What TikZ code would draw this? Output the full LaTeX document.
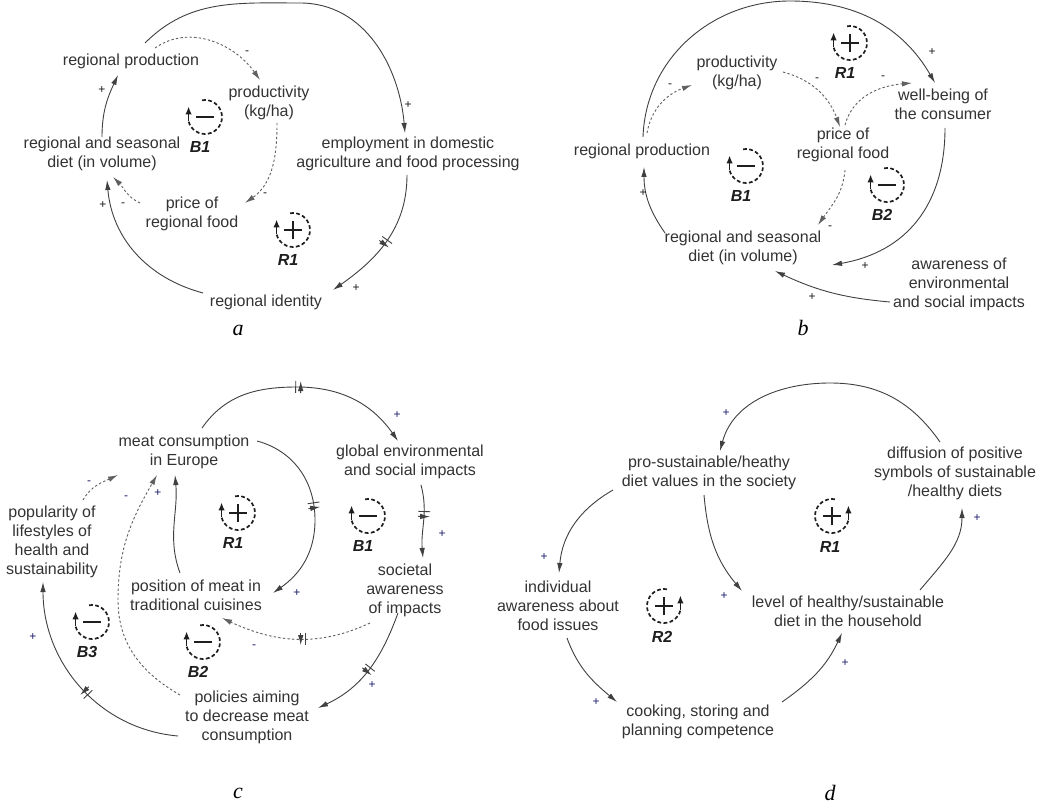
\documentclass[tikz,border=0pt]{standalone}
\usepackage{fontspec}
\setmainfont{Liberation Sans}
\newfontfamily\panelfont{Liberation Serif}
\usetikzlibrary{arrows.meta,decorations.markings}
\definecolor{txtc}{HTML}{333333}
\definecolor{lnc}{HTML}{404040}
\definecolor{dlc}{HTML}{606060}
\definecolor{polk}{HTML}{1A1A1A}
\definecolor{poln}{HTML}{1C1C6E}
\definecolor{loopc}{HTML}{1E1E1E}
\tikzset{
  txt/.style={align=center, inner sep=2pt, text=txtc, font=\fontsize{16}{19}\selectfont},
  pol/.style={inner sep=0pt, text=polk, font=\fontsize{12}{13}\selectfont},
  polb/.style={pol, text=poln},
  panel/.style={inner sep=0pt, text=black, font=\panelfont\itshape\fontsize{22}{24}\selectfont},
  conn/.style={draw=lnc, line width=0.9pt, -{Latex[length=10pt,width=5.5pt]}},
  dconn/.style={conn, draw=dlc, dash pattern=on 2.4pt off 2.2pt},
  hashat/.style={postaction={decorate,decoration={markings,
      mark=at position #1 with {\draw[solid,draw=lnc,line width=0.9pt] (-2.5,-6)--(-2.5,6) (2.5,-6)--(2.5,6);}}}},
  loopdash/.style={draw=loopc, line width=1.7pt, dash pattern=on 3.8pt off 2.4pt},
  looparr/.style={draw=loopc, line width=1.7pt, -{Latex[length=8pt,width=6.5pt]}},
  loopsgn/.style={draw=loopc, line width=2.3pt},
  looplab/.style={inner sep=0pt, text=loopc, font=\bfseries\itshape\fontsize{16}{18}\selectfont}
}
% loop symbol with the arrow on the left side
\newcommand{\cldloopL}[5]{%
  \begin{scope}[shift={(#2,#3)}]
    \draw[loopdash] (100:17) arc[start angle=100,end angle=-165,radius=17];
    \draw[looparr] (-165:17) -- ++(0,15);
    \draw[loopsgn] (-9,0) -- (9,0);
    \ifx p#4\draw[loopsgn] (0,-9) -- (0,9);\fi
    \node[looplab] (#1) at (-5,-30) {#5};
  \end{scope}}
% loop symbol with the arrow on the right side
\newcommand{\cldloopR}[5]{%
  \begin{scope}[shift={(#2,#3)}]
    \draw[loopdash] (80:17) arc[start angle=80,end angle=345,radius=17];
    \draw[looparr] (345:17) -- ++(0,15);
    \draw[loopsgn] (-9,0) -- (9,0);
    \ifx p#4\draw[loopsgn] (0,-9) -- (0,9);\fi
    \node[looplab] (#1) at (-2,-31) {#5};
  \end{scope}}
\begin{document}
\begin{tikzpicture}[x=1pt,y=1pt]
\fill[white] (0,0) rectangle (1049,-805);
\useasboundingbox (0,0) rectangle (1049,-805);

% ================= panel a =================
\node[txt] (aRP) at (131,-61) {regional production};
\node[txt] (aPR) at (269,-103) {productivity\\(kg/ha)};
\node[txt] (aRD) at (102,-154) {regional and seasonal\\diet (in volume)};
\node[txt] (aEM) at (408,-154) {employment in domestic\\agriculture and food processing};
\node[txt] (aPF) at (192,-214) {price of\\regional food};
\node[txt] (aRI) at (266,-302) {regional identity};
\node[panel] (aL) at (238,-330) {a};
\cldloopL{aB1}{205}{-117}{m}{B1}
\cldloopL{aR1}{293}{-230}{p}{R1}

\coordinate (a1s) at (145,-43); \coordinate (a1m) at (300,-3); \coordinate (a1e) at (405,-133);
\draw[conn] (a1s) to[out=45,in=180] (a1m) to[out=0,in=95] (a1e);
\coordinate (a2s) at (407,-175); \coordinate (a2e) at (333,-290);
\draw[conn,hashat=0.5] (a2s) to[out=-90,in=35] (a2e);
\coordinate (a3s) at (203,-293); \coordinate (a3e) at (107,-180);
\draw[conn] (a3s) to[out=165,in=-85] (a3e);
\coordinate (a4s) at (102,-137); \coordinate (a4e) at (118,-75);
\draw[conn] (a4s) to[out=90,in=-115] (a4e);
\coordinate (a5s) at (155,-48); \coordinate (a5e) at (260,-80);
\draw[dconn] (a5s) to[out=35,in=125] (a5e);
\coordinate (a6s) at (277,-123); \coordinate (a6e) at (245,-203);
\draw[dconn] (a6s) to[out=-90,in=35] (a6e);
\coordinate (a7s) at (140,-203); \coordinate (a7e) at (113,-177);
\draw[dconn] (a7s) to[out=155,in=-45] (a7e);

\node[pol] (ap1) at (408,-105) {+};
\node[pol] (ap2) at (356,-288) {+};
\node[pol] (ap3) at (103,-205) {+};
\node[pol] (ap4) at (102,-90) {+};
\node[pol] (ap5) at (247,-53) {-};
\node[pol] (ap6) at (265,-195) {-};
\node[pol] (ap7) at (123,-205) {-};

% ================= panel b =================
\node[txt] (bPR) at (737,-73) {productivity\\(kg/ha)};
\node[txt] (bWB) at (943,-104) {well-being of\\the consumer};
\node[txt] (bPF) at (843,-145) {price of\\regional food};
\node[txt] (bRP) at (642,-151) {regional production};
\node[txt] (bRD) at (743,-248) {regional and seasonal\\diet (in volume)};
\node[txt] (bAW) at (959,-284) {awareness of\\environmental\\and social impacts};
\node[panel] (bL) at (803,-328) {b};
\cldloopL{bR1}{850}{-43}{p}{R1}
\cldloopL{bB1}{746}{-166}{m}{B1}
\cldloopL{bB2}{887}{-185}{m}{B2}

\coordinate (b1s) at (643,-137); \coordinate (b1m) at (790,-1); \coordinate (b1e) at (935,-83);
\draw[conn] (b1s) to[out=88,in=180] (b1m) to[out=0,in=120] (b1e);
\coordinate (b2s) at (945,-128); \coordinate (b2e) at (832,-265);
\draw[conn] (b2s) to[out=-90,in=10,looseness=1.1] (b2e);
\coordinate (b3s) at (890,-302); \coordinate (b3e) at (775,-271);
\draw[conn] (b3s) to[out=175,in=-25] (b3e);
\coordinate (b4s) at (665,-233); \coordinate (b4e) at (644,-167);
\draw[conn] (b4s) to[out=125,in=-90] (b4e);
\coordinate (b5s) at (647,-133); \coordinate (b5e) at (692,-85);
\draw[dconn] (b5s) to[out=80,in=200] (b5e);
\coordinate (b6s) at (783,-72); \coordinate (b6e) at (840,-127);
\draw[dconn] (b6s) to[out=-15,in=110] (b6e);
\coordinate (b7s) at (845,-125); \coordinate (b7e) at (912,-83);
\draw[dconn] (b7s) to[out=75,in=185] (b7e);
\coordinate (b8s) at (845,-170); \coordinate (b8e) at (818,-225);
\draw[dconn] (b8s) to[out=-95,in=55] (b8e);

\node[pol] (bp1) at (932,-52) {+};
\node[pol] (bp2) at (865,-266) {+};
\node[pol] (bp3) at (812,-297) {+};
\node[pol] (bp4) at (643,-193) {+};
\node[pol] (bp5) at (670,-86) {-};
\node[pol] (bp6) at (817,-80) {-};
\node[pol] (bp7) at (883,-78) {-};
\node[pol] (bp8) at (830,-228) {-};

% ================= panel c =================
\node[txt] (cMC) at (184,-452) {meat consumption\\in Europe};
\node[txt] (cGI) at (410,-462) {global environmental\\and social impacts};
\node[txt] (cPL) at (52,-542) {popularity of\\lifestyles of\\health and\\sustainability};
\node[txt] (cSA) at (405,-590) {societal\\awareness\\of impacts};
\node[txt] (cPT) at (196,-595) {position of meat in\\traditional cuisines};
\node[txt] (cPO) at (247,-717) {policies aiming\\to decrease meat\\consumption};
\node[panel] (cL) at (238,-793) {c};
\cldloopL{cR1}{238}{-513}{p}{R1}
\cldloopL{cB1}{368}{-516}{m}{B1}
\cldloopL{cB3}{92}{-622}{m}{B3}
\cldloopL{cB2}{203}{-642}{m}{B2}

\coordinate (c1s) at (202,-428); \coordinate (c1m) at (297,-387); \coordinate (c1e) at (398,-441);
\draw[conn,hashat=0.48] (c1s) to[out=55,in=180] (c1m) to[out=0,in=125] (c1e);
\coordinate (c2s) at (421,-485); \coordinate (c2e) at (423,-558);
\draw[conn,hashat=0.4] (c2s) to[out=-75,in=95] (c2e);
\coordinate (c3s) at (398,-613); \coordinate (c3e) at (318,-708);
\draw[conn,hashat=0.5] (c3s) to[out=-110,in=25] (c3e);
\coordinate (c4s) at (178,-736); \coordinate (c4e) at (43,-582);
\draw[conn,hashat=0.46] (c4s) to[out=175,in=-90] (c4e);
\coordinate (c5s) at (83,-500); \coordinate (c5e) at (118,-475);
\draw[dconn] (c5s) to[out=60,in=205] (c5e);
\coordinate (c6s) at (180,-695); \coordinate (c6m) at (118,-600); \coordinate (c6e) at (157,-475);
\draw[dconn] (c6s) to[out=150,in=-90] (c6m) to[out=90,in=-120] (c6e);
\coordinate (c7s) at (370,-623); \coordinate (c7e) at (222,-618);
\draw[dconn,hashat=0.45] (c7s) to[out=-155,in=-25] (c7e);
\coordinate (c8s) at (180,-573); \coordinate (c8e) at (175,-475);
\draw[conn] (c8s) to[out=110,in=-85] (c8e);
\coordinate (c9s) at (257,-441); \coordinate (c9m) at (315,-520); \coordinate (c9e) at (273,-593);
\draw[conn,hashat=0.47] (c9s) to[out=-15,in=90] (c9m) to[out=-90,in=35] (c9e);

\node[polb] (cp1) at (397,-415) {+};
\node[polb] (cp2) at (442,-534) {+};
\node[polb] (cp3) at (372,-685) {+};
\node[polb] (cp4) at (33,-637) {+};
\node[polb] (cp5) at (89,-483) {-};
\node[polb] (cp6) at (126,-498) {-};
\node[polb] (cp7) at (254,-647) {-};
\node[polb] (cp8) at (158,-493) {+};
\node[polb] (cp9) at (297,-593) {+};

% ================= panel d =================
\node[txt] (dPS) at (709,-473) {pro-sustainable/heathy\\diet values in the society};
\node[txt] (dDF) at (955,-473) {diffusion of positive\\symbols of sustainable\\/healthy diets};
\node[txt] (dIA) at (558,-606) {individual\\awareness about\\food issues};
\node[txt] (dLV) at (848,-611) {level of healthy/sustainable\\diet in the household};
\node[txt] (dCK) at (698,-722) {cooking, storing and\\planning competence};
\node[panel] (dL) at (830,-793) {d};
\cldloopR{dR1}{832}{-516}{p}{R1}
\cldloopR{dR2}{664}{-606}{p}{R2}

\coordinate (d1s) at (940,-442); \coordinate (d1m) at (830,-383); \coordinate (d1e) at (720,-451);
\draw[conn] (d1s) to[out=125,in=0] (d1m) to[out=180,in=75] (d1e);
\coordinate (d2s) at (613,-490); \coordinate (d2e) at (559,-573);
\draw[conn] (d2s) to[out=-150,in=85] (d2e);
\coordinate (d3s) at (704,-495); \coordinate (d3e) at (742,-591);
\draw[conn] (d3s) to[out=-85,in=130] (d3e);
\coordinate (d4s) at (920,-590); \coordinate (d4e) at (962,-508);
\draw[conn] (d4s) to[out=50,in=-90] (d4e);
\coordinate (d5s) at (567,-638); \coordinate (d5e) at (617,-702);
\draw[conn] (d5s) to[out=-70,in=140] (d5e);
\coordinate (d6s) at (782,-702); \coordinate (d6e) at (842,-633);
\draw[conn] (d6s) to[out=35,in=-115] (d6e);

\node[polb] (dp1) at (726,-413) {+};
\node[polb] (dp2) at (544,-557) {+};
\node[polb] (dp3) at (724,-596) {+};
\node[polb] (dp4) at (977,-518) {+};
\node[polb] (dp5) at (596,-702) {+};
\node[polb] (dp6) at (845,-663) {+};
\end{tikzpicture}
\end{document}
